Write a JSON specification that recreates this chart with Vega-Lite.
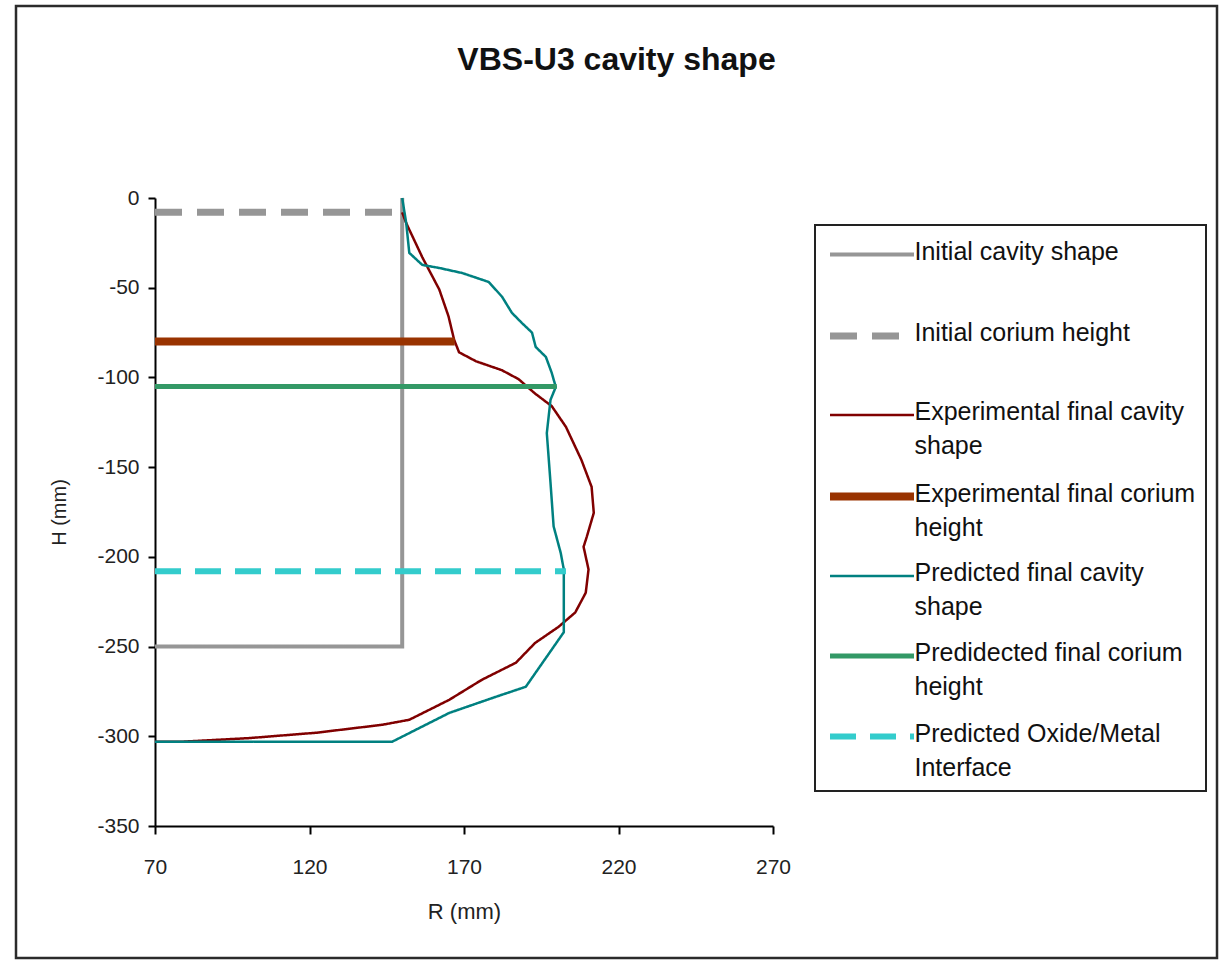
{
  "$schema": "https://vega.github.io/schema/vega-lite/v6.json",
  "width": 1201,
  "height": 952,
  "autosize": {"type": "none"},
  "padding": {"left": 16, "top": 6, "right": 5, "bottom": 2},
  "background": "white",
  "config": {
    "view": {"stroke": "#2b2b2b", "strokeWidth": 2.5},
    "font": "Liberation Sans"
  },
  "title": {
    "text": "VBS-U3 cavity shape",
    "anchor": "middle",
    "frame": "group",
    "fontSize": 32,
    "fontWeight": "bold",
    "font": "Liberation Sans",
    "color": "#111111",
    "offset": 0,
    "dy": 71
  },
  "encoding": {
    "x": {
      "field": "r",
      "type": "quantitative",
      "scale": {"domain": [70, 270], "range": [139, 757], "nice": false, "zero": false},
      "axis": {
        "title": "R (mm)",
        "values": [70, 120, 170, 220, 270],
        "offset": -132,
        "grid": false,
        "domainColor": "#000000",
        "domainWidth": 2,
        "tickColor": "#000000",
        "tickWidth": 2,
        "tickSize": 8,
        "labelFlush": false,
        "labelFont": "Liberation Sans",
        "labelFontSize": 21,
        "labelColor": "#222222",
        "labelPadding": 22,
        "labelExpr": "'' + datum.value",
        "titleFont": "Liberation Sans",
        "titleFontSize": 22,
        "titleFontWeight": "normal",
        "titleColor": "#222222",
        "titlePadding": 24
      }
    },
    "y": {
      "field": "h",
      "type": "quantitative",
      "scale": {"domain": [-350, 0], "range": [820, 192], "nice": false, "zero": false},
      "axis": {
        "title": "H (mm)",
        "values": [-350, -300, -250, -200, -150, -100, -50, 0],
        "offset": -139,
        "grid": false,
        "domainColor": "#000000",
        "domainWidth": 2,
        "tickColor": "#000000",
        "tickWidth": 2,
        "tickSize": 7,
        "labelFlush": false,
        "labelFont": "Liberation Sans",
        "labelFontSize": 21,
        "labelColor": "#222222",
        "labelPadding": 9,
        "labelExpr": "'' + datum.value",
        "titleFont": "Liberation Sans",
        "titleFontSize": 20,
        "titleFontWeight": "normal",
        "titleColor": "#222222",
        "titlePadding": 27
      }
    }
  },
  "layer": [
    {
      "data": {"values": [{}]},
      "mark": {"type": "rect", "fill": null, "stroke": "#8c8c8c", "strokeWidth": 2},
      "encoding": {
        "x": {"datum": 70, "type": "quantitative"},
        "x2": {"datum": 270},
        "y": {"datum": 0, "type": "quantitative"},
        "y2": {"datum": -350}
      }
    },
    {
      "data": {
        "values": [
          {"s": "Initial cavity shape", "i": 0, "r": 150, "h": 0},
          {"s": "Initial cavity shape", "i": 1, "r": 150, "h": -250},
          {"s": "Initial cavity shape", "i": 2, "r": 70, "h": -250},
          {"s": "Initial corium height", "i": 0, "r": 70, "h": -8},
          {"s": "Initial corium height", "i": 1, "r": 150, "h": -8},
          {"s": "Experimental final cavity shape", "i": 0, "r": 150, "h": -8},
          {"s": "Experimental final cavity shape", "i": 1, "r": 151.3, "h": -14},
          {"s": "Experimental final cavity shape", "i": 2, "r": 156.5, "h": -33},
          {"s": "Experimental final cavity shape", "i": 3, "r": 162, "h": -51},
          {"s": "Experimental final cavity shape", "i": 4, "r": 165, "h": -66},
          {"s": "Experimental final cavity shape", "i": 5, "r": 166.8, "h": -79},
          {"s": "Experimental final cavity shape", "i": 6, "r": 168.4, "h": -86},
          {"s": "Experimental final cavity shape", "i": 7, "r": 173.9, "h": -91},
          {"s": "Experimental final cavity shape", "i": 8, "r": 182.3, "h": -96},
          {"s": "Experimental final cavity shape", "i": 9, "r": 187.7, "h": -101},
          {"s": "Experimental final cavity shape", "i": 10, "r": 193, "h": -109},
          {"s": "Experimental final cavity shape", "i": 11, "r": 198.4, "h": -116},
          {"s": "Experimental final cavity shape", "i": 12, "r": 203, "h": -127.6},
          {"s": "Experimental final cavity shape", "i": 13, "r": 208, "h": -146},
          {"s": "Experimental final cavity shape", "i": 14, "r": 211.3, "h": -161},
          {"s": "Experimental final cavity shape", "i": 15, "r": 212, "h": -175.5},
          {"s": "Experimental final cavity shape", "i": 16, "r": 209.7, "h": -189},
          {"s": "Experimental final cavity shape", "i": 17, "r": 208.7, "h": -194.4},
          {"s": "Experimental final cavity shape", "i": 18, "r": 210.3, "h": -207},
          {"s": "Experimental final cavity shape", "i": 19, "r": 209.4, "h": -220},
          {"s": "Experimental final cavity shape", "i": 20, "r": 206, "h": -231},
          {"s": "Experimental final cavity shape", "i": 21, "r": 200.6, "h": -239},
          {"s": "Experimental final cavity shape", "i": 22, "r": 193, "h": -248},
          {"s": "Experimental final cavity shape", "i": 23, "r": 186.8, "h": -259},
          {"s": "Experimental final cavity shape", "i": 24, "r": 175.8, "h": -268.5},
          {"s": "Experimental final cavity shape", "i": 25, "r": 165.2, "h": -279.7},
          {"s": "Experimental final cavity shape", "i": 26, "r": 152.3, "h": -290.8},
          {"s": "Experimental final cavity shape", "i": 27, "r": 143.5, "h": -293.6},
          {"s": "Experimental final cavity shape", "i": 28, "r": 122.3, "h": -298},
          {"s": "Experimental final cavity shape", "i": 29, "r": 100.6, "h": -301},
          {"s": "Experimental final cavity shape", "i": 30, "r": 79, "h": -303},
          {"s": "Experimental final cavity shape", "i": 31, "r": 70, "h": -303},
          {"s": "Experimental final corium height", "i": 0, "r": 70, "h": -80},
          {"s": "Experimental final corium height", "i": 1, "r": 167, "h": -80},
          {"s": "Predicted final cavity shape", "i": 0, "r": 150, "h": 0},
          {"s": "Predicted final cavity shape", "i": 1, "r": 151.3, "h": -14},
          {"s": "Predicted final cavity shape", "i": 2, "r": 152.3, "h": -30.6},
          {"s": "Predicted final cavity shape", "i": 3, "r": 156.5, "h": -37.3},
          {"s": "Predicted final cavity shape", "i": 4, "r": 162, "h": -39},
          {"s": "Predicted final cavity shape", "i": 5, "r": 169.4, "h": -41.8},
          {"s": "Predicted final cavity shape", "i": 6, "r": 178, "h": -46.8},
          {"s": "Predicted final cavity shape", "i": 7, "r": 182.3, "h": -55},
          {"s": "Predicted final cavity shape", "i": 8, "r": 185.5, "h": -64},
          {"s": "Predicted final cavity shape", "i": 9, "r": 188.7, "h": -69.6},
          {"s": "Predicted final cavity shape", "i": 10, "r": 192, "h": -75},
          {"s": "Predicted final cavity shape", "i": 11, "r": 193.2, "h": -83},
          {"s": "Predicted final cavity shape", "i": 12, "r": 196.5, "h": -88.6},
          {"s": "Predicted final cavity shape", "i": 13, "r": 198.4, "h": -97.5},
          {"s": "Predicted final cavity shape", "i": 14, "r": 199.7, "h": -105.3},
          {"s": "Predicted final cavity shape", "i": 15, "r": 198, "h": -112.5},
          {"s": "Predicted final cavity shape", "i": 16, "r": 196.8, "h": -131},
          {"s": "Predicted final cavity shape", "i": 17, "r": 198, "h": -158.8},
          {"s": "Predicted final cavity shape", "i": 18, "r": 199, "h": -183},
          {"s": "Predicted final cavity shape", "i": 19, "r": 201.3, "h": -197.8},
          {"s": "Predicted final cavity shape", "i": 20, "r": 202.3, "h": -207},
          {"s": "Predicted final cavity shape", "i": 21, "r": 202.3, "h": -242},
          {"s": "Predicted final cavity shape", "i": 22, "r": 190, "h": -272.4},
          {"s": "Predicted final cavity shape", "i": 23, "r": 180.3, "h": -278},
          {"s": "Predicted final cavity shape", "i": 24, "r": 165.2, "h": -287},
          {"s": "Predicted final cavity shape", "i": 25, "r": 146.8, "h": -303},
          {"s": "Predicted final cavity shape", "i": 26, "r": 70, "h": -303},
          {"s": "Predidected final corium height", "i": 0, "r": 70, "h": -105},
          {"s": "Predidected final corium height", "i": 1, "r": 200, "h": -105},
          {"s": "Predicted Oxide/Metal Interface", "i": 0, "r": 70, "h": -208},
          {"s": "Predicted Oxide/Metal Interface", "i": 1, "r": 203, "h": -208}
        ]
      },
      "mark": {"type": "line", "clip": false},
      "encoding": {
        "order": {"field": "i", "type": "quantitative"},
        "color": {
          "field": "s",
          "type": "nominal",
          "scale": {
            "domain": ["Initial cavity shape", "Initial corium height", "Experimental final cavity shape", "Experimental final corium height", "Predicted final cavity shape", "Predidected final corium height", "Predicted Oxide/Metal Interface"],
            "range": ["#969696", "#969696", "#800000", "#993300", "#008080", "#339966", "#33CCCC"]
          },
          "legend": {
            "orient": "none",
            "legendX": 799,
            "legendY": 219,
            "title": null,
            "strokeColor": "#222222",
            "fillColor": "white",
            "padding": 10,
            "labelFont": "Liberation Sans",
            "labelFontSize": 25,
            "labelColor": "#111111",
            "labelLimit": 600,
            "labelOffset": 21,
            "labelBaseline": "top",
            "labelExpr": "length(datum.label) > 22 ? [slice(datum.label, 0, lastindexof(datum.label, ' ')), slice(datum.label, lastindexof(datum.label, ' ') + 1)] : [datum.label, '']",
            "symbolType": "M-2.4,0H2.4",
            "symbolSize": 1225,
            "symbolOffset": 25.5,
            "symbolStrokeWidth": 4,
            "rowPadding": 16,
            "encode": {
              "symbols": {"update": {"strokeWidth": {"value": 4}}},
              "labels": {"update": {"dy": {"value": -15}, "lineHeight": {"value": 34}}},
              "legend": {"update": {"strokeWidth": {"value": 2}}}
            }
          }
        },
        "strokeDash": {
          "field": "s",
          "type": "nominal",
          "scale": {
            "domain": ["Initial cavity shape", "Initial corium height", "Experimental final cavity shape", "Experimental final corium height", "Predicted final cavity shape", "Predidected final corium height", "Predicted Oxide/Metal Interface"],
            "range": [[1, 0], [27, 15], [1, 0], [1, 0], [1, 0], [1, 0], [26, 14]]
          }
        },
        "strokeWidth": {
          "field": "s",
          "type": "nominal",
          "scale": {
            "type": "ordinal",
            "domain": ["Initial cavity shape", "Initial corium height", "Experimental final cavity shape", "Experimental final corium height", "Predicted final cavity shape", "Predidected final corium height", "Predicted Oxide/Metal Interface"],
            "range": [4, 7, 2.5, 8, 2.5, 5, 6]
          },
          "legend": null
        }
      }
    }
  ]
}
